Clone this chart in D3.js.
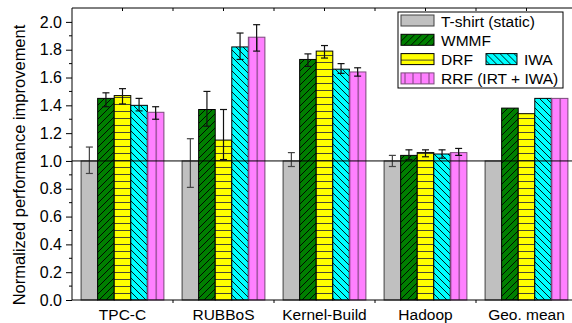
<!DOCTYPE html>
<html>
<head>
<meta charset="utf-8">
<script src="https://cdn.jsdelivr.net/npm/d3@7"></script>
<style>
body { margin: 0; background: #fff; }
text { font-family: "Liberation Sans", Arial, sans-serif; }
</style>
</head>
<body>
<div id="chart"></div>
<script>
var categories = ["TPC-C", "RUBBoS", "Kernel-Build", "Hadoop", "Geo. mean"]
var seriesNames = ["T-shirt (static)", "WMMF", "DRF", "IWA", "RRF (IRT + IWA)"]

var tshirt = [1.00, 1.00, 1.00, 1.00, 1.00]
var wmmf   = [1.45, 1.37, 1.73, 1.04, 1.38]
var drf    = [1.47, 1.15, 1.79, 1.06, 1.34]
var iwa    = [1.40, 1.82, 1.66, 1.05, 1.45]
var rrf    = [1.35, 1.89, 1.64, 1.06, 1.45]

// error bar ends (low, high); null = no error bar
var tshirtErr = [[0.91, 1.10], [0.81, 1.16], [0.96, 1.06], [0.96, 1.04], null]
var wmmfErr   = [[1.39, 1.49], [1.25, 1.50], [1.68, 1.77], [1.01, 1.08], null]
var drfErr    = [[1.41, 1.52], [1.01, 1.37], [1.74, 1.83], [1.03, 1.08], null]
var iwaErr    = [[1.36, 1.45], [1.73, 1.92], [1.63, 1.70], [1.02, 1.08], null]
var rrfErr    = [[1.30, 1.39], [1.79, 1.98], [1.61, 1.67], [1.04, 1.09], null]

var yTicks = [0.0, 0.2, 0.4, 0.6, 0.8, 1.0, 1.2, 1.4, 1.6, 1.8, 2.0]

var allValues = [tshirt, wmmf, drf, iwa, rrf]
var allErrs = [tshirtErr, wmmfErr, drfErr, iwaErr, rrfErr]

var width = 572, height = 323
var pLeft = 72, pRight = 577, pTop = 8, pBottom = 300

var svg = d3.select("#chart").append("svg")
	.attr("width", width)
	.attr("height", height)

// hatch patterns
var defs = svg.append("defs")
function hatch(id, bg, size, path, strokeCol) {
	var p = defs.append("pattern")
		.attr("id", id)
		.attr("patternUnits", "userSpaceOnUse")
		.attr("width", size).attr("height", size)
	p.append("rect").attr("width", size).attr("height", size).attr("fill", bg)
	if (path) p.append("path").attr("d", path).attr("stroke", strokeCol || "#000").attr("stroke-width", 0.9).attr("fill", "none")
	return p
}
hatch("p0", "#c0c0c0", 7, null)
hatch("p1", "#007f00", 7, "M-1,8 L8,-1 M-1,1 L1,-1 M6,8 L8,6")
hatch("p2", "#ffff00", 7, "M0,6.5 L7,6.5", "#333")
hatch("p3", "#00ffff", 7, "M-1,-1 L8,8 M-1,6 L1,8 M6,-1 L8,1")
hatch("p4", "#ff80ff", 8, "M4,0 L4,8", "#6a3a6a")
// pink bars: one vertical line down the middle of each bar
var pk = defs.append("pattern").attr("id", "p4bar")
	.attr("patternUnits", "objectBoundingBox")
	.attr("width", 0.5).attr("height", 1)
pk.append("rect").attr("width", 20).attr("height", 400).attr("fill", "#ff80ff")
pk.append("line").attr("x1", 0.5).attr("x2", 0.5).attr("y1", 0).attr("y2", 400)
	.attr("stroke", "#6a3a6a").attr("stroke-width", 1)
var strokes = ["#404040", "#000", "#000", "#000", "#7a4a7a"]

var x0 = d3.scaleBand().domain(categories).range([pLeft, pRight]).paddingInner(0.18).paddingOuter(0.09)
var x1 = d3.scaleBand().domain(d3.range(seriesNames.length)).range([0, x0.bandwidth()])
var y = d3.scaleLinear().domain([0, 2.1]).range([pBottom, pTop])

var rows = []
categories.forEach(function(c, i) {
	allValues.forEach(function(vals, s) {
		rows.push({cat: c, s: s, v: vals[i], err: allErrs[s][i]})
	})
})

var plot = svg.append("g")

plot.selectAll(".bar")
	.data(rows)
	.enter().append("rect")
	.attr("class", "bar")
	.attr("x", function(d) { return x0(d.cat) + x1(d.s) })
	.attr("y", function(d) { return y(d.v) })
	.attr("width", x1.bandwidth())
	.attr("height", function(d) { return y(0) - y(d.v) })
	.attr("fill", function(d) { return d.s == 4 ? "url(#p4bar)" : "url(#p" + d.s + ")" })
	.attr("stroke", function(d) { return strokes[d.s] })
	.attr("stroke-width", 1)

// error bars
var eb = plot.selectAll(".err")
	.data(rows.filter(function(d) { return d.err }))
	.enter().append("g")
	.attr("class", "err")
	.attr("stroke", function(d) { return d.s == 0 ? "#444" : "#111" })
	.attr("stroke-width", 1.2)
eb.append("line")
	.attr("x1", function(d) { return x0(d.cat) + x1(d.s) + x1.bandwidth() / 2 })
	.attr("x2", function(d) { return x0(d.cat) + x1(d.s) + x1.bandwidth() / 2 })
	.attr("y1", function(d) { return y(d.err[0]) })
	.attr("y2", function(d) { return y(d.err[1]) })
eb.selectAll(".cap")
	.data(function(d) { return [d, d].map(function(e, k) { return {d: e, k: k} }) })
	.enter().append("line")
	.attr("x1", function(c) { return x0(c.d.cat) + x1(c.d.s) + x1.bandwidth() / 2 - 3.5 })
	.attr("x2", function(c) { return x0(c.d.cat) + x1(c.d.s) + x1.bandwidth() / 2 + 3.5 })
	.attr("y1", function(c) { return y(c.d.err[c.k]) })
	.attr("y2", function(c) { return y(c.d.err[c.k]) })

// reference line at 1.0
svg.append("line")
	.attr("x1", pLeft).attr("x2", width)
	.attr("y1", y(1)).attr("y2", y(1))
	.attr("stroke", "#000").attr("stroke-width", 1)

// axes
var yAxis = d3.axisLeft(y).tickValues(yTicks).tickFormat(d3.format(".1f")).tickSize(6).tickPadding(4)
var gy = svg.append("g").attr("transform", "translate(" + pLeft + ",0)").call(yAxis)
gy.select(".domain").attr("d", "M0," + pTop + "V" + pBottom)
gy.selectAll(".tick text").style("font-size", "16px").attr("fill", "#000")
var minor = d3.range(0.1, 2.1, 0.2)
gy.selectAll(".minor").data(minor).enter().append("line")
	.attr("x1", -3).attr("x2", 0)
	.attr("y1", function(d) { return y(d) }).attr("y2", function(d) { return y(d) })
	.attr("stroke", "#000")

var xAxis = d3.axisBottom(x0).tickSize(0).tickPadding(9)
var gx = svg.append("g").attr("transform", "translate(0," + pBottom + ")").call(xAxis)
gx.select(".domain").attr("d", "M" + pLeft + ",0H" + width)
gx.selectAll(".tick text").style("font-size", "15.5px").attr("fill", "#000")
gx.selectAll(".sep").data(categories.slice(1)).enter().append("line")
	.attr("x1", function(d) { return x0(d) - x0.step() * x0.paddingInner() / 2 })
	.attr("x2", function(d) { return x0(d) - x0.step() * x0.paddingInner() / 2 })
	.attr("y1", 0).attr("y2", 3).attr("stroke", "#000")

// top frame
svg.append("line").attr("x1", pLeft).attr("x2", width).attr("y1", pTop).attr("y2", pTop).attr("stroke", "#000")
var topTicks = []
categories.forEach(function(d, i) {
	topTicks.push(x0(d) + x0.bandwidth() / 2)
	if (i > 0) topTicks.push(x0(d) - x0.step() * x0.paddingInner() / 2)
})
svg.selectAll(".toptick").data(topTicks).enter().append("line")
	.attr("x1", function(d) { return d })
	.attr("x2", function(d) { return d })
	.attr("y1", pTop).attr("y2", pTop + 3).attr("stroke", "#000")

// y label
svg.append("text")
	.attr("transform", "translate(25," + ((pTop + pBottom) / 2 + 11) + ") rotate(-90)")
	.attr("text-anchor", "middle")
	.style("font-size", "16.5px")
	.text("Normalized performance improvement")

// legend
var lg = svg.append("g").attr("transform", "translate(398,12)")
lg.append("rect").attr("width", 165).attr("height", 76).attr("fill", "#fff").attr("stroke", "#000")
var legItems = [
	{s: 0, x: 3, row: 0}, {s: 1, x: 3, row: 1}, {s: 2, x: 3, row: 2},
	{s: 3, x: 88, row: 2}, {s: 4, x: 3, row: 3}
]
var li = lg.selectAll(".li").data(legItems).enter().append("g")
	.attr("transform", function(d) { return "translate(" + d.x + "," + (3 + d.row * 19.3) + ")" })
li.append("rect")
	.attr("width", function(d) { return d.s == 3 ? 31 : 33 })
	.attr("height", 11)
	.attr("fill", function(d) { return "url(#p" + d.s + ")" })
	.attr("stroke", function(d) { return strokes[d.s] })
li.append("text")
	.attr("x", function(d) { return d.s == 3 ? 38 : 40 })
	.attr("y", 11.5)
	.style("font-size", "15.5px")
	.text(function(d) {
		return d.s == 3 ? "IWA" : seriesNames[d.s]
	})
</script>
</body>
</html>
